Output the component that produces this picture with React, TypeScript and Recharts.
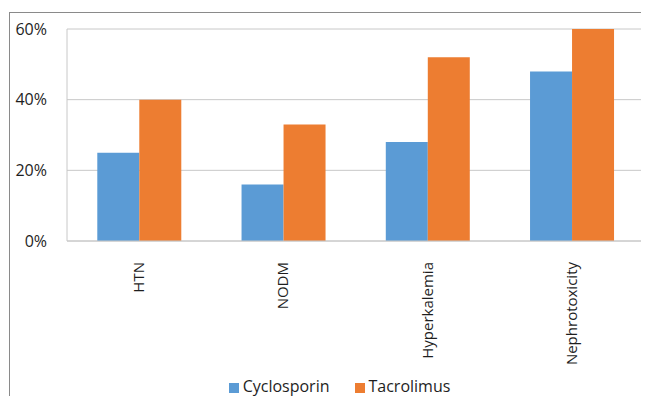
import { BarChart, Bar, XAxis, YAxis, CartesianGrid, Legend } from "recharts";

const categorias = ["HTN", "NODM", "Hyperkalemia", "Nephrotoxicity"];
const cyclosporin = [0.25, 0.16, 0.28, 0.48];
const tacrolimus = [0.4, 0.33, 0.52, 0.6];
const ticksY = [0, 0.2, 0.4, 0.6];

const dados = categorias.map((nome, i) => ({
  nome,
  cyclosporin: cyclosporin[i],
  tacrolimus: tacrolimus[i],
}));

const fonte = "'Open Sans', sans-serif";
const corTexto = "#1e1e1e";

function TickX(props: any) {
  const { x, y, payload } = props;
  return (
    <g transform={`translate(${x},${y + 13}) rotate(-90)`}>
      <text textAnchor="end" dy={5} fill={corTexto} fontSize={15} fontFamily={fonte}>
        {payload.value}
      </text>
    </g>
  );
}

export default function App() {
  return (
    <div style={{ position: "relative", margin: -8, width: 649, height: 404, overflow: "hidden", background: "#fff" }}>
      <div
        style={{
          position: "absolute",
          left: 9,
          top: 12,
          width: 700,
          height: 500,
          border: "1px solid #8a8a8a",
        }}
      />
      <div style={{ position: "absolute", left: 0, top: 0 }}>
        <BarChart
          width={649}
          height={404}
          data={dados}
          margin={{ top: 29, right: 5, left: 0, bottom: 7 }}
          barCategoryGap="21%"
          barGap={0}
        >
          <CartesianGrid vertical={false} stroke="#c8c8c8" />
          <XAxis
            dataKey="nome"
            height={134}
            interval={0}
            tick={<TickX />}
            tickLine={false}
            axisLine={{ stroke: "#c8c8c8" }}
          />
          <YAxis
            width={67}
            domain={[0, 0.6]}
            ticks={ticksY}
            tickFormatter={(v: number) => `${Math.round(v * 100)}%`}
            tick={{ fill: corTexto, fontSize: 16, fontFamily: fonte }}
            tickLine={false}
            axisLine={{ stroke: "#c8c8c8" }}
            tickMargin={14}
          />
          <Legend
            verticalAlign="bottom"
            iconType="square"
            iconSize={10}
            wrapperStyle={{ fontFamily: fonte, fontSize: 16, left: 30 }}
            formatter={(v: string) => (
              <span style={{ color: corTexto, marginRight: 15 }}>{v}</span>
            )}
          />
          <Bar dataKey="cyclosporin" name="Cyclosporin" fill="#5B9BD5" isAnimationActive={false} />
          <Bar dataKey="tacrolimus" name="Tacrolimus" fill="#ED7D31" isAnimationActive={false} />
        </BarChart>
      </div>
    </div>
  );
}
